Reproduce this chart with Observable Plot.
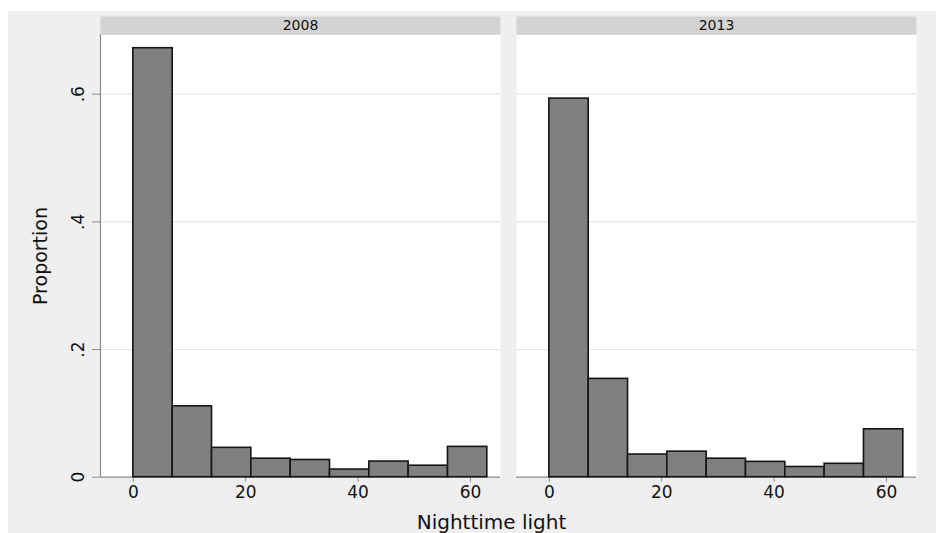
<!DOCTYPE html>
<html>
<head>
<meta charset="utf-8">
<script src="https://cdn.jsdelivr.net/npm/d3@7"></script>
<script src="https://cdn.jsdelivr.net/npm/@observablehq/plot@0.6"></script>
<style>
  body { margin: 0; background: #ffffff; }
  #wrap { padding: 11px 0 0 8px; width: 928px; height: 522px; }
  svg { display: block; }
</style>
</head>
<body>
<div id="wrap"></div>
<script>
// ---- data ----
const years = [2008, 2013];
const binStarts = [0, 7, 14, 21, 28, 35, 42, 49, 56];
const binWidth = 7;
const prop2008 = [0.672, 0.111, 0.046, 0.029, 0.027, 0.012, 0.0245, 0.018, 0.0475];
const prop2013 = [0.593, 0.154, 0.0355, 0.040, 0.029, 0.024, 0.016, 0.021, 0.075];
const xTicks = [0, 20, 40, 60];
const yTicks = [0, 0.2, 0.4, 0.6];
const xDomain = [-5.85, 65.35];
const yDomain = [0, 0.693];

const rows = [];
years.forEach((yr, k) => {
  const vals = k === 0 ? prop2008 : prop2013;
  binStarts.forEach((b, i) => rows.push({year: yr, x1: b, x2: b + binWidth, p: vals[i]}));
});

const W = 928, H = 522, mTop = 23.3, mBottom = 56.3, mLeft = 92, mRight = 19.3;
const plotH = H - mTop - mBottom;
const fmtY = d => d === 0 ? "0" : String(d).replace(/^0/, "");

const chart = Plot.plot({
  width: W, height: H,
  marginTop: mTop, marginBottom: mBottom, marginLeft: mLeft, marginRight: mRight,
  style: {background: "#efefef", fontFamily: "DejaVu Sans", fontSize: "16px", color: "#111"},
  fx: {domain: years, paddingInner: 0.0384, paddingOuter: 0, axis: null, label: null},
  x: {domain: xDomain, label: null},
  y: {domain: yDomain, label: null},
  marks: [
    Plot.frame({fill: "white", stroke: "none"}),
    Plot.frame({fill: "#d3d3d3", stroke: "none", insetTop: -18.3, insetBottom: plotH}),
    Plot.text(years, {fx: d => d, text: d => String(d), frameAnchor: "top", dy: -9.5, lineAnchor: "middle", fontSize: 14, fill: "#111"}),
    Plot.gridY(yTicks.filter(d => d > 0), {stroke: "#e6e6e6", strokeOpacity: 1, strokeWidth: 1.2}),
    Plot.ruleX([years[0]], {fx: d => d, x: xDomain[0], stroke: "#8a8a8a", strokeWidth: 1.2}),
    Plot.ruleY([0], {stroke: "#8a8a8a", strokeWidth: 1.2}),
    Plot.axisY({ticks: yTicks, tickFormat: fmtY, tickSize: 8, tickPadding: 9, tickRotate: -90, stroke: "#8a8a8a", fill: "#111", label: "Proportion", labelAnchor: "center", labelOffset: 67, labelArrow: "none", fontSize: 17}),
    Plot.axisX({ticks: xTicks, tickSize: 5, tickPadding: 4, stroke: "#8a8a8a", fill: "#111", label: null, fontSize: 17}),
    Plot.rectY(rows, {fx: "year", x1: "x1", x2: "x2", y: "p", fill: "#808080", stroke: "#151515", strokeWidth: 1.6}),
    Plot.text(["Nighttime light"], {facet: "super", text: d => d, frameAnchor: "bottom", dx: -17, dy: 52, fontSize: 20, fill: "#111", lineAnchor: "bottom"})
  ]
});
document.getElementById("wrap").appendChild(chart);
d3.select(chart).selectAll("text").filter(function() { return this.textContent === "Proportion"; }).attr("font-size", 19);
</script>
</body>
</html>
